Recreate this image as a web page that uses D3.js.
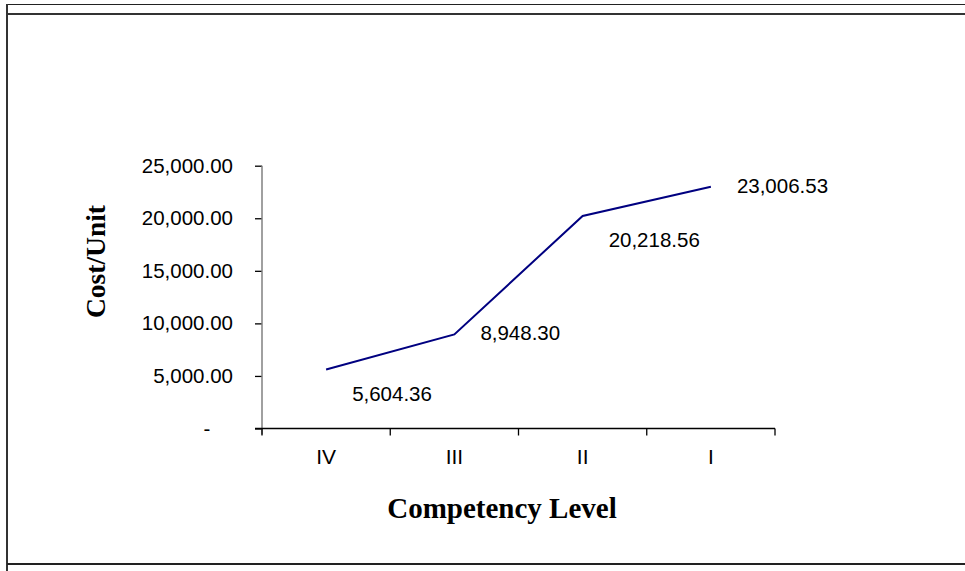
<!DOCTYPE html>
<html>
<head>
<meta charset="utf-8">
<script src="https://cdn.jsdelivr.net/npm/d3@7"></script>
<style>
  html, body { margin: 0; padding: 0; background: #fff; }
  svg { display: block; }
</style>
</head>
<body>
<svg id="chart" width="965" height="571"></svg>
<script>
const categories = ["IV", "III", "II", "I"];
const costValues = [5604.36, 8948.30, 20218.56, 23006.53];
const yTickValues = [0, 5000, 10000, 15000, 20000, 25000];
const yAxisTitle = "Cost/Unit";
const xAxisTitle = "Competency Level";

const svg = d3.select("#chart");

// frame lines
svg.append("line").attr("x1", 7).attr("x2", 965).attr("y1", 4.5).attr("y2", 4.5)
  .attr("stroke", "#222").attr("stroke-width", 1);
svg.append("line").attr("x1", 7).attr("x2", 965).attr("y1", 14).attr("y2", 14)
  .attr("stroke", "#333").attr("stroke-width", 2);
svg.append("line").attr("x1", 7).attr("x2", 7).attr("y1", 4).attr("y2", 571)
  .attr("stroke", "#333").attr("stroke-width", 2);
svg.append("line").attr("x1", 7).attr("x2", 965).attr("y1", 564).attr("y2", 564)
  .attr("stroke", "#222").attr("stroke-width", 2);

const pLeft = 262, pRight = 775, pTop = 165.7, pBottom = 428.5;

const x = d3.scaleBand().domain(categories).range([pLeft, pRight]);
const y = d3.scaleLinear().domain([0, 25000]).range([pBottom, pTop]);

const sans = "Liberation Sans, Arial, sans-serif";
const serif = "Liberation Serif, Times New Roman, serif";

// Y axis
const yAxis = d3.axisLeft(y)
  .tickValues(yTickValues)
  .tickSize(7)
  .tickPadding(22)
  .tickFormat(d => d === 0 ? "-\u00a0\u00a0\u00a0\u00a0" : d3.format(",.2f")(d));
const gy = svg.append("g").attr("transform", `translate(${pLeft},0)`).call(yAxis);
gy.select(".domain").remove();
gy.selectAll(".tick line").attr("stroke", "#000").attr("stroke-width", 1.3);
gy.selectAll(".tick text")
  .attr("font-family", sans)
  .attr("font-size", 20.5).attr("fill", "#000")
  .style("white-space", "pre");
svg.append("line").attr("x1", pLeft).attr("x2", pLeft).attr("y1", pTop).attr("y2", pBottom + 6)
  .attr("stroke", "#808080").attr("stroke-width", 1.5);

// X axis
const xAxis = d3.axisBottom(x).tickSize(0).tickPadding(21);
const gx = svg.append("g").attr("transform", `translate(0,${pBottom})`).call(xAxis);
gx.select(".domain").remove();
gx.selectAll(".tick text")
  .attr("font-family", sans)
  .attr("font-size", 21).attr("fill", "#000");
svg.append("line").attr("x1", pLeft - 7).attr("x2", pRight).attr("y1", pBottom).attr("y2", pBottom)
  .attr("stroke", "#000").attr("stroke-width", 1.5);
const boundaries = categories.map(c => x(c)).concat([x(categories[categories.length - 1]) + x.bandwidth()]);
svg.selectAll(".xb").data(boundaries).enter().append("line")
  .attr("x1", d => d).attr("x2", d => d)
  .attr("y1", pBottom).attr("y2", pBottom + 7)
  .attr("stroke", "#000").attr("stroke-width", 1.3);

// Line
const pts = categories.map((c, i) => [x(c) + x.bandwidth() / 2, y(costValues[i])]);
svg.append("path")
  .attr("d", d3.line()(pts))
  .attr("fill", "none")
  .attr("stroke", "#000080")
  .attr("stroke-width", 2);

// data labels
svg.selectAll(".dl").data(costValues).enter().append("text")
  .attr("x", (d, i) => pts[i][0] + 26)
  .attr("y", (d, i) => pts[i][1] + (i % 2 === 0 ? 31 : 6))
  .attr("font-family", sans)
  .attr("font-size", 20.5).attr("fill", "#000")
  .text(d => d3.format(",.2f")(d));

// axis titles
svg.append("text")
  .attr("transform", "translate(105,261.5) rotate(-90)")
  .attr("text-anchor", "middle")
  .attr("font-family", serif)
  .attr("font-weight", "bold")
  .attr("font-size", 27.5)
  .attr("fill", "#000")
  .text(yAxisTitle);
svg.append("text")
  .attr("x", 502).attr("y", 518)
  .attr("text-anchor", "middle")
  .attr("font-family", serif)
  .attr("font-weight", "bold")
  .attr("font-size", 29)
  .attr("fill", "#000")
  .text(xAxisTitle);
</script>
</body>
</html>
